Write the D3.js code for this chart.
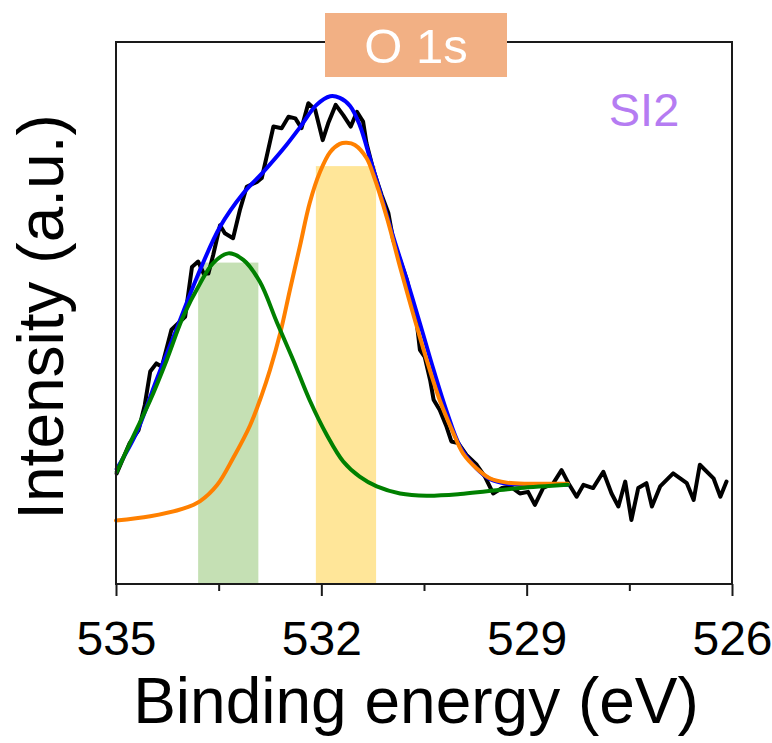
<!DOCTYPE html>
<html>
<head>
<meta charset="utf-8">
<script src="https://cdn.jsdelivr.net/npm/d3@7"></script>
<style>
  html, body { margin: 0; padding: 0; background: #ffffff; }
  svg { display: block; font-family: "Liberation Sans", Arial, Helvetica, sans-serif; }
</style>
</head>
<body>
<svg id="chart" width="772" height="743"></svg>
<script>
// O 1s spectrum, sample SI2 — binding energy (eV) vs intensity (a.u.)
const rawEnergy = [534.99,534.80,534.67,534.58,534.50,534.41,534.33,534.19,533.99,533.89,533.80,533.72,533.65,533.58,533.48,533.41,533.29,533.19,533.09,532.94,532.87,532.80,532.70,532.58,532.48,532.38,532.29,532.19,532.09,531.98,531.90,531.79,531.68,531.57,531.48,531.39,531.34,531.24,531.12,531.02,530.95,530.85,530.75,530.68,530.61,530.56,530.49,530.41,530.36,530.27,530.17,530.10,530.00,529.88,529.73,529.61,529.49,529.36,529.24,529.10,528.98,528.88,528.76,528.61,528.49,528.39,528.27,528.17,528.03,527.88,527.76,527.66,527.56,527.47,527.37,527.25,527.17,527.05,526.86,526.66,526.56,526.47,526.27,526.17,526.08];
const rawIntensity = [204,260,284,330,392,407,401,469,493,585,595,573,573,607,662,647,638,690,733,742,749,788,844,841,862,859,841,887,875,819,850,884,865,844,871,853,813,764,718,684,635,598,561,524,487,432,419,376,340,321,290,263,260,238,220,198,167,177,180,167,170,146,177,186,210,186,161,183,177,207,167,143,189,118,177,186,143,180,204,186,155,220,195,161,189];

// Fitted envelope (sum of components)
const envEnergy = [534.99,534.70,534.41,534.11,533.82,533.48,533.14,532.85,532.51,532.31,532.07,531.87,531.73,531.58,531.44,531.29,531.14,530.95,530.75,530.56,530.36,530.17,529.97,529.73,529.54,529.29,528.95,528.40];
const envIntensity = [212,279,376,472,565,659,721,760,810,843,884,900,897,882,847,786,723,641,561,481,395,319,253,213,194,185,183,183];

// Component at ~531.6 eV
const peakAEnergy = [535.00,534.50,534.02,533.77,533.52,533.29,533.04,532.87,532.75,532.60,532.46,532.31,532.17,532.02,531.87,531.73,531.63,531.51,531.34,531.24,531.04,530.85,530.66,530.46,530.27,530.07,529.93,529.73,529.54,529.29,528.95,528.40];
const peakAIntensity = [117,125,139,153,183,232,293,349,395,463,542,625,703,760,797,812,814,810,786,755,675,585,499,413,339,278,241,213,195,187,185,185];

// Component at ~533.4 eV
const peakBEnergy = [534.99,534.75,534.50,534.26,534.02,533.77,533.58,533.36,533.14,532.90,532.65,532.41,532.17,531.92,531.68,531.44,531.19,530.85,530.46,529.97,529.58,529.10,528.40];
const peakBIntensity = [207,272,339,413,493,555,592,610,598,558,483,413,339,275,226,198,180,167,163,166,171,177,183];

// Shaded position markers for the two components
const markerCenters = [533.36, 531.64];
const markerHeights = [593, 771];
const markerWidth = 0.88;
const markerColors = ["#C5E0B4", "#FFE699"];

const majorTicks = [535, 532, 529, 526];
const minorTicks = [533.5, 530.5, 527.5];

const svg = d3.select("#chart");
const plotLeft = 116, plotRight = 732, plotTop = 42, plotBottom = 584;

const x = d3.scaleLinear().domain([535, 526]).range([plotLeft, plotRight]);
const y = d3.scaleLinear().domain([0, 1000]).range([plotBottom, plotTop]);

// shaded bars
svg.append("g").selectAll("rect")
  .data(markerCenters)
  .join("rect")
  .attr("x", d => x(d + markerWidth / 2))
  .attr("width", d => x(d - markerWidth / 2) - x(d + markerWidth / 2))
  .attr("y", (d, i) => y(markerHeights[i]))
  .attr("height", (d, i) => y(0) - y(markerHeights[i]))
  .attr("fill", (d, i) => markerColors[i]);

const zip = (xs, ys) => xs.map((v, i) => [v, ys[i]]);
const rawLine = d3.line().x(d => x(d[0])).y(d => y(d[1])).curve(d3.curveLinear);
const fitLine = d3.line().x(d => x(d[0])).y(d => y(d[1])).curve(d3.curveCatmullRom.alpha(0.5));

const series = [
  { pts: zip(rawEnergy, rawIntensity), color: "#000000", gen: rawLine },
  { pts: zip(envEnergy, envIntensity), color: "#0000FF", gen: fitLine },
  { pts: zip(peakAEnergy, peakAIntensity), color: "#FF8000", gen: fitLine },
  { pts: zip(peakBEnergy, peakBIntensity), color: "#008000", gen: fitLine }
];

svg.append("g").selectAll("path")
  .data(series)
  .join("path")
  .attr("d", d => d.gen(d.pts))
  .attr("fill", "none")
  .attr("stroke", d => d.color)
  .attr("stroke-width", 4)
  .attr("stroke-linejoin", "round")
  .attr("stroke-linecap", "round");

// frame
svg.append("rect")
  .attr("x", plotLeft).attr("y", plotTop)
  .attr("width", plotRight - plotLeft).attr("height", plotBottom - plotTop)
  .attr("fill", "none").attr("stroke", "#1a1a1a").attr("stroke-width", 2);

// bottom axis: major ticks with labels, minor ticks without
const axMajor = svg.append("g")
  .attr("transform", `translate(0,${plotBottom})`)
  .call(d3.axisBottom(x).tickValues(majorTicks).tickSize(12).tickPadding(25).tickFormat(d3.format("d")));
axMajor.select(".domain").remove();
axMajor.selectAll("line").attr("stroke", "#1a1a1a").attr("stroke-width", 2);
axMajor.selectAll("text")
  .attr("fill", "#000")
  .style("font-size", "48px")
  .style("font-family", "'Liberation Sans', Arial, sans-serif");

const axMinor = svg.append("g")
  .attr("transform", `translate(0,${plotBottom})`)
  .call(d3.axisBottom(x).tickValues(minorTicks).tickSize(7).tickFormat(""));
axMinor.select(".domain").remove();
axMinor.selectAll("line").attr("stroke", "#1a1a1a").attr("stroke-width", 2);

// axis titles
svg.append("text")
  .attr("x", 416).attr("y", 723)
  .attr("text-anchor", "middle")
  .style("font-size", "64px")
  .text("Binding energy (eV)");

svg.append("text")
  .attr("transform", "translate(63,317) rotate(-90)")
  .attr("text-anchor", "middle")
  .style("font-size", "64px")
  .text("Intensity (a.u.)");

// core-level tag
svg.append("rect")
  .attr("x", 325).attr("y", 13)
  .attr("width", 182).attr("height", 64)
  .attr("fill", "#F2B084");
svg.append("text")
  .attr("x", 416).attr("y", 63)
  .attr("text-anchor", "middle")
  .attr("fill", "#ffffff")
  .style("font-size", "49px")
  .text("O 1s");

// sample name
svg.append("text")
  .attr("x", 644).attr("y", 126)
  .attr("text-anchor", "middle")
  .attr("fill", "#B57CF2")
  .style("font-size", "47px")
  .text("SI2");
</script>
</body>
</html>
